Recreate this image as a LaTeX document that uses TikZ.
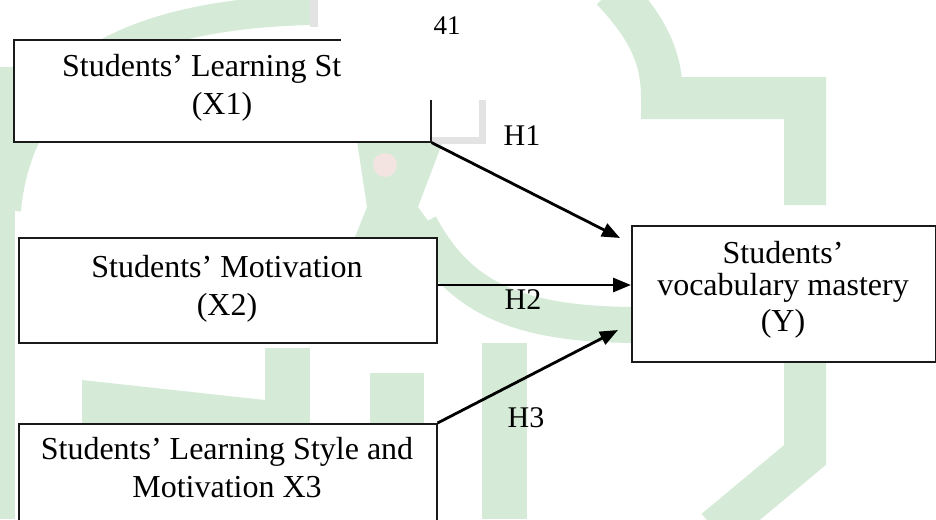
\documentclass[tikz,border=0pt]{standalone}
\usepackage{fontspec}
\setmainfont{Liberation Serif}
\usetikzlibrary{arrows.meta,positioning}
\definecolor{WmGreen}{HTML}{D6EBD7}
\definecolor{WmGrey} {HTML}{E3E3E3}
\definecolor{WmPink} {HTML}{F3E4E2}
\definecolor{BoxLine}{HTML}{1A1A1A}

\begin{document}
\begin{tikzpicture}[x=1pt,y=-1pt,
  box/.style={draw=BoxLine,fill=white,line width=1.6pt,anchor=north west,inner sep=0pt},
  txt/.style={font=\fontsize{32}{38}\selectfont,anchor=base,inner sep=0pt},
  lbl/.style={font=\fontsize{30}{36}\selectfont,anchor=base,inner sep=0pt},
  wm/.style={draw=WmGreen,line width=42pt},
  arr/.style={-{Triangle[length=18pt,width=14pt]},line width=2.8pt}
]
  \clip (0,0) rectangle (936,519);

  % watermark in the background
  \fill[WmGreen] (0,67) rectangle (15,519);
  \draw[wm,line width=30pt] (6,210) .. controls (20,60) and (150,14) .. (310,10);
  \fill[WmGrey] (310,0) rectangle (318,27);
  \draw[wm,line join=miter] (612,-10) .. controls (650,30) and (662,60) .. (662,98) -- (805,98) -- (805,205);
  \draw[wm,line join=miter] (805,361) -- (805,455) -- (715,530);
  \fill[WmGreen] (82,380) -- (265,400) -- (265,423) -- (82,423) -- cycle;
  \fill[WmGreen] (265,348) rectangle (310,423);
  \fill[WmGreen] (370,373) rectangle (424,519);
  \fill[WmGreen] (482,343) rectangle (527,519);
  \fill[WmGreen] (357,141) -- (443,141) -- (418,207) -- (440,237) -- (355,237) -- (367,207) -- cycle;
  \fill[WmPink] (385,165) circle (12);
  \draw[wm,line width=36pt] (420,225) .. controls (460,300) and (520,325) .. (640,325);
  \draw[WmGrey,line width=7pt] (482,100) -- (482,140) -- (430,140);

  % boxes
  \node[box,minimum width=417pt,minimum height=102pt] (x1) at (13,39) {};
  \node[box,minimum width=418pt,minimum height=105pt] (x2) at (18,237) {};
  \node[box,minimum width=418pt,minimum height=130pt] (x3) at (18,423) {};
  \node[box,minimum width=304pt,minimum height=136pt] (y)  at (631,225) {};

  % page number patch
  \fill[white] (341,0) rectangle (520,100);
  \node[txt,font=\fontsize{27}{32}\selectfont] (page) at (447,35) {41};

  \node[txt,anchor=base west] (x1a) at (62,76) {Students’ Learning St};
  \node[txt] (x1b) at (222,114) {(X1)};
  \node[txt] (x2a) at (227,277) {Students’ Motivation};
  \node[txt] (x2b) at (227,315) {(X2)};
  \node[txt] (x3a) at (227,459) {Students’ Learning Style and};
  \node[txt] (x3b) at (227,497) {Motivation X3};
  \node[txt] (ya) at (783,263) {Students’};
  \node[txt] (yb) at (783,295) {vocabulary mastery};
  \node[txt] (yc) at (783,331) {(Y)};

  \coordinate (t1) at (620,238);
  \coordinate (h2) at (0,285);
  \coordinate (t3) at (618,330);
  \draw[arr] (x1.south east) -- (t1);
  \draw[arr] (x2.east |- h2) -- (y.west |- h2);
  \draw[arr] (x3.north east) -- (t3);

  \node[lbl] (h1lbl) at (522,145) {H1};
  \node[lbl] (h2lbl) at (523,309) {H2};
  \node[lbl] (h3lbl) at (526,427) {H3};
\end{tikzpicture}
\end{document}
